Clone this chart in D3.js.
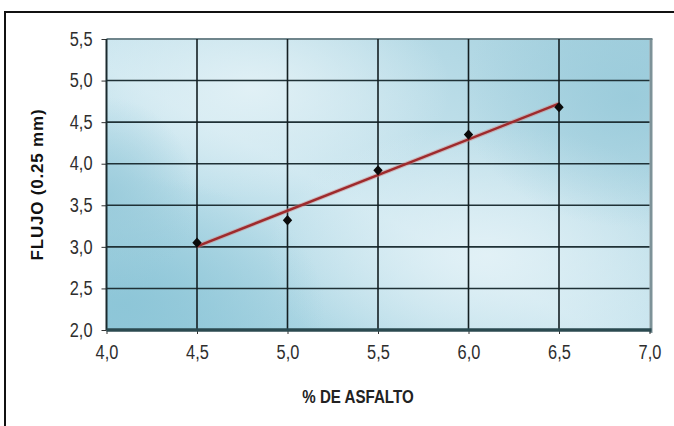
<!DOCTYPE html>
<html>
<head>
<meta charset="utf-8">
<script src="https://cdn.jsdelivr.net/npm/d3@7"></script>
<style>
html,body{margin:0;padding:0;background:#fff;}
svg{display:block;}
</style>
</head>
<body>
<svg id="chart" width="674" height="426"></svg>
<script>
// ---- data ----
const asfalto = [4.5, 5.0, 5.5, 6.0, 6.5];
const flujo = [3.05, 3.32, 3.92, 4.35, 4.68];
const xTicks = [4.0, 4.5, 5.0, 5.5, 6.0, 6.5, 7.0];
const yTicks = [2.0, 2.5, 3.0, 3.5, 4.0, 4.5, 5.0, 5.5];
const xTitle = "% DE ASFALTO";
const yTitle = "FLUJO (0.25 mm)";

const svg = d3.select("#chart");
const L = 106.5, R = 649.5, T = 39, B = 330;
const x = d3.scaleLinear().domain([4, 7]).range([L, R]);
const y = d3.scaleLinear().domain([2, 5.5]).range([B, T]);
const fmt = v => d3.format(".1f")(v).replace(".", ",");
const sans = "'Liberation Sans',Arial,sans-serif";
const SX = 0.84;

// outer border
svg.append("rect").attr("x", 5).attr("y", 12).attr("width", 700).attr("height", 500)
  .attr("fill", "none").attr("stroke", "#111").attr("stroke-width", 2);

// gradients
const defs = svg.append("defs");
const base = defs.append("linearGradient").attr("id", "base").attr("x1", 0).attr("y1", 1).attr("x2", 1).attr("y2", 0);
base.append("stop").attr("offset", "0").attr("stop-color", "#92c9da");
base.append("stop").attr("offset", "0.45").attr("stop-color", "#cde7f0");
base.append("stop").attr("offset", "1").attr("stop-color", "#a4d0de");
function radial(id, color, op) {
  const g = defs.append("radialGradient").attr("id", id);
  g.append("stop").attr("offset", "0").attr("stop-color", color).attr("stop-opacity", op);
  g.append("stop").attr("offset", "1").attr("stop-color", color).attr("stop-opacity", 0);
}
radial("light1", "#e2f1f6", 0.95);
radial("light2", "#e4f2f7", 0.9);
radial("dark1", "#8cc5d7", 0.9);
radial("dark2", "#98cada", 0.85);

svg.append("rect").attr("x", L).attr("y", T).attr("width", R - L).attr("height", B - T).attr("fill", "url(#base)");
const clip = defs.append("clipPath").attr("id", "pclip");
clip.append("rect").attr("x", L).attr("y", T).attr("width", R - L).attr("height", B - T);
const bg = svg.append("g").attr("clip-path", "url(#pclip)");
bg.append("ellipse").attr("cx", x(4.8)).attr("cy", y(4.9)).attr("rx", 200).attr("ry", 110).attr("fill", "url(#light1)");
bg.append("ellipse").attr("cx", x(6.1)).attr("cy", y(2.9)).attr("rx", 220).attr("ry", 130).attr("fill", "url(#light2)");
bg.append("ellipse").attr("cx", x(4.1)).attr("cy", y(2.3)).attr("rx", 200).attr("ry", 130).attr("fill", "url(#dark1)");
bg.append("ellipse").attr("cx", x(6.9)).attr("cy", y(4.8)).attr("rx", 170).attr("ry", 130).attr("fill", "url(#dark2)");
bg.append("ellipse").attr("cx", x(4.0)).attr("cy", y(3.6)).attr("rx", 90).attr("ry", 100).attr("fill", "url(#dark2)");

// right shadow & top edge
svg.append("rect").attr("x", R).attr("y", T).attr("width", 3).attr("height", B - T + 3).attr("fill", "#7d9298");
svg.append("line").attr("x1", L).attr("x2", R + 3).attr("y1", T).attr("y2", T).attr("stroke", "#6f858c").attr("stroke-width", 2);

// gridlines
svg.append("g").selectAll("line").data(yTicks.filter(v => v > 2 && v < 5.5)).join("line")
  .attr("x1", L).attr("x2", R).attr("y1", d => y(d)).attr("y2", d => y(d))
  .attr("stroke", "#1f3136").attr("stroke-width", 1.6);
svg.append("g").selectAll("line").data(xTicks.filter(v => v > 4 && v < 7)).join("line")
  .attr("y1", T).attr("y2", B).attr("x1", d => x(d)).attr("x2", d => x(d))
  .attr("stroke", "#141f22").attr("stroke-width", 1.6);

// axes
const yAxis = svg.append("g").attr("transform", `translate(${L},0)`)
  .call(d3.axisLeft(y).tickValues(yTicks).tickFormat(fmt).tickSize(5).tickPadding(9));
const xAxis = svg.append("g").attr("transform", `translate(0,${B})`)
  .call(d3.axisBottom(x).tickValues(xTicks).tickFormat(fmt).tickSize(4).tickPadding(11));
[yAxis, xAxis].forEach(a => {
  a.select(".domain").remove();
  a.selectAll("line").attr("stroke", "#333");
  a.selectAll("text").attr("font-family", sans).attr("font-size", 19.5).attr("fill", "#2e2e2e")
    .each(function () {
      const t = d3.select(this);
      const x0 = +t.attr("x") || 0;
      t.attr("x", x0 / SX).attr("transform", `scale(${SX},1)`);
    });
});
svg.append("line").attr("x1", L).attr("x2", L).attr("y1", T).attr("y2", B)
  .attr("stroke", "#1a2a2e").attr("stroke-width", 2);
svg.append("line").attr("x1", L).attr("x2", R + 2).attr("y1", B).attr("y2", B)
  .attr("stroke", "#2b4a50").attr("stroke-width", 3.5);

// trendline (least squares of the data)
const mx = d3.mean(asfalto), my = d3.mean(flujo);
const slope = d3.sum(asfalto, (v, i) => (v - mx) * (flujo[i] - my)) / d3.sum(asfalto, v => (v - mx) ** 2);
const icpt = my - slope * mx;
const ends = d3.extent(asfalto);
svg.append("line")
  .attr("x1", x(ends[0])).attr("y1", y(icpt + slope * ends[0]))
  .attr("x2", x(ends[1])).attr("y2", y(icpt + slope * ends[1]))
  .attr("stroke", "#d08a8a").attr("stroke-opacity", 0.5).attr("stroke-width", 4.5);
svg.append("line")
  .attr("x1", x(ends[0])).attr("y1", y(icpt + slope * ends[0]))
  .attr("x2", x(ends[1])).attr("y2", y(icpt + slope * ends[1]))
  .attr("stroke", "#9e2a2c").attr("stroke-width", 2.4);

// markers
svg.append("g").selectAll("path").data(asfalto).join("path")
  .attr("d", d3.symbol(d3.symbolDiamond2, 56))
  .attr("transform", (d, i) => `translate(${x(d)},${y(flujo[i])}) scale(1,1.1)`)
  .attr("fill", "#0a0a0a");

// titles
svg.append("text").attr("transform", `translate(358,403) scale(0.84,1)`).attr("text-anchor", "middle")
  .attr("font-family", sans).attr("font-weight", "bold").attr("font-size", 18).attr("fill", "#222")
  .text(xTitle);
svg.append("text").attr("transform", `translate(43,${(T + B) / 2}) rotate(-90)`).attr("text-anchor", "middle")
  .attr("font-family", sans).attr("font-weight", "bold").attr("font-size", 17)
  .attr("letter-spacing", 0.8).attr("fill", "#111")
  .text(yTitle);
</script>
</body>
</html>
